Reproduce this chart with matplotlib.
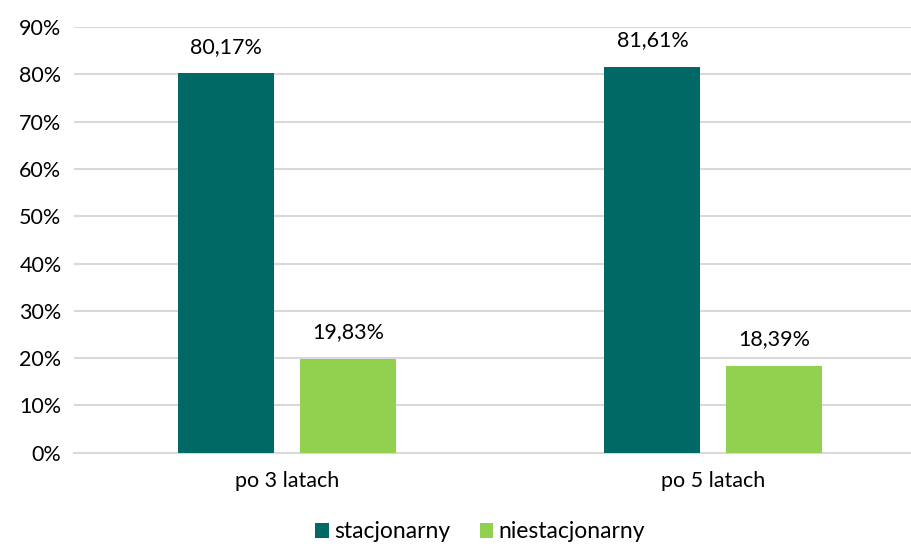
import matplotlib
matplotlib.use("Agg")
import matplotlib.pyplot as plt
import numpy as np

categories = ["po 3 latach", "po 5 latach"]
series_names = ["stacjonarny", "niestacjonarny"]
stacjonarny = [80.17, 81.61]
niestacjonarny = [19.83, 18.39]
yticks = [0, 10, 20, 30, 40, 50, 60, 70, 80, 90]

colors = ["#006966", "#92D050"]
plt.rcParams['font.family'] = ['Lato', 'DejaVu Sans']

fig = plt.figure(figsize=(9.12, 5.46), dpi=100)
ax = fig.add_axes([74/912, (546-452.7)/546, (912-74)/912, (452.7-27)/546])

x = np.arange(len(categories))
w = 0.225
off = 0.143
vals = [stacjonarny, niestacjonarny]
for i, (name, v) in enumerate(zip(series_names, vals)):
    pos = x + (-off if i == 0 else off)
    bars = ax.bar(pos, v, width=w, color=colors[i], label=name, zorder=3)
    for b, val in zip(bars, v):
        ax.annotate(f"{val:.2f}".replace(".", ",") + "%",
                    (b.get_x() + b.get_width()/2, val),
                    xytext=(0, 12), textcoords="offset points",
                    ha="center", va="bottom", fontsize=15.5, color="#000000")

ax.set_ylim(0, 90)
ax.set_xlim(-0.5, 1.466)
ax.set_yticks(yticks)
ax.set_yticklabels([f"{t}%" for t in yticks])
ax.set_xticks(x)
ax.set_xticklabels(categories)
ax.tick_params(axis='both', length=0, labelsize=15.5, colors="#000000")
ax.tick_params(axis='x', pad=13)
ax.tick_params(axis='y', pad=9)
ax.grid(axis='y', color="#D9D9D9", linewidth=1.5, zorder=0)
for s in ax.spines.values():
    s.set_visible(False)
ax.spines['bottom'].set_visible(True)
ax.spines['bottom'].set_color("#D9D9D9")
ax.spines['bottom'].set_linewidth(1.5)

leg = fig.legend(loc="center", bbox_to_anchor=(480/912, 1 - 532/546), ncol=2,
                 frameon=False, fontsize=16.5, handlelength=0.6, handleheight=0.6,
                 handletextpad=0.2, columnspacing=1.3)

fig.savefig("out.png", dpi=100)
